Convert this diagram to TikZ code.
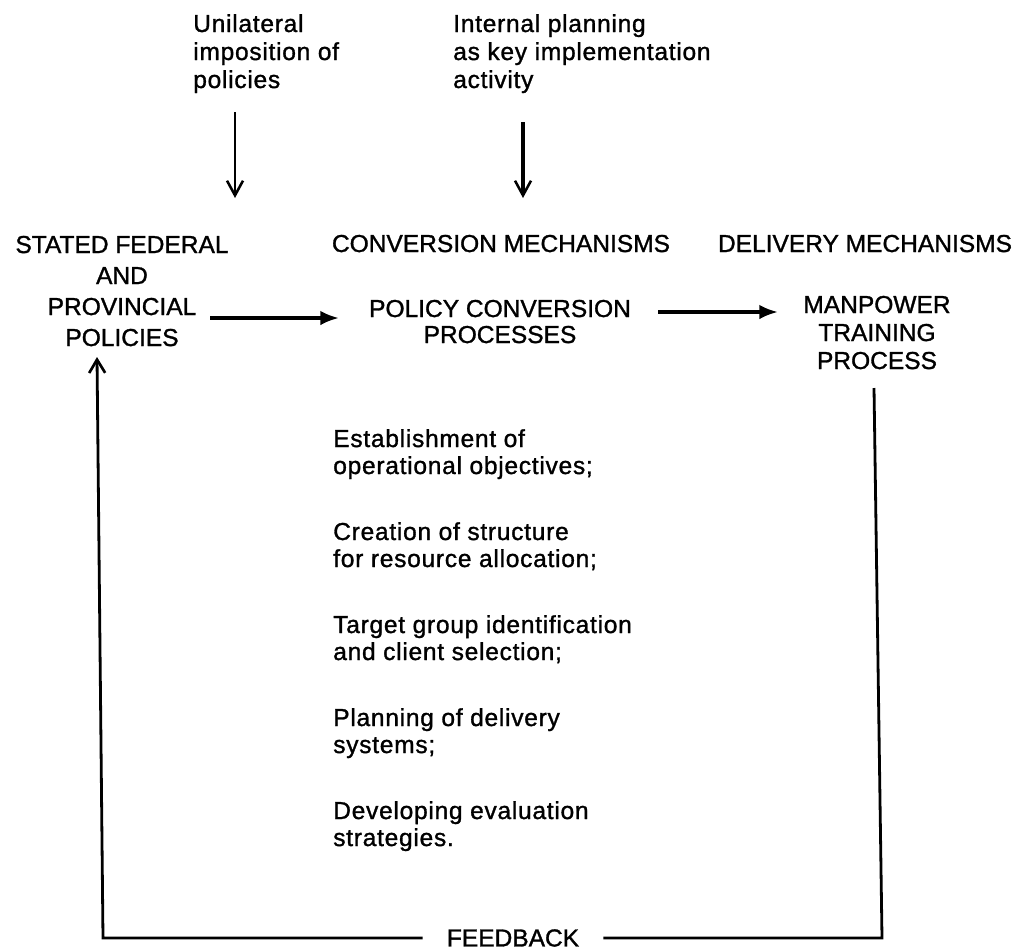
\documentclass[tikz,border=0pt]{standalone}
\usepackage{fontspec}
\setmainfont[FakeBold=1.2]{Liberation Sans}
\newfontfamily\spacedfont[LetterSpace=3,FakeBold=1.2]{Liberation Sans}
\usetikzlibrary{arrows.meta}

% stacked lines whose baseline is that of the first line
\newcommand\leftlines[2]{\vtop{\baselineskip=#1\lineskiplimit=-20pt\halign{##\hfil\cr#2\crcr}}}
\newcommand\centerlines[2]{\vtop{\baselineskip=#1\lineskiplimit=-20pt\halign{\hfil##\hfil\cr#2\crcr}}}

\tikzset{
  caps/.style={inner sep=0pt, font=\fontsize{18.4}{20}\selectfont},
  prose/.style={inner sep=0pt, anchor=base west, font=\fontsize{18.4}{20}\selectfont\spacedfont},
  downarrow/.style={line width=2.1pt, -{Straight Barb[length=11pt,width=12pt,line width=1.9pt]}},
  flowarrow/.style={line width=2.6pt, -{Latex[length=14pt,width=11pt]}},
  feedline/.style={line width=2.1pt},
  feedarrow/.style={line width=2.1pt, -{Straight Barb[length=10pt,width=12pt,line width=2pt]}}
}

\begin{document}
\begin{tikzpicture}[x=0.75pt,y=-0.75pt]
\useasboundingbox (0,0) rectangle (1023,950);

% influences from above
\node[prose] (uni) at (193,32) {\leftlines{21pt}{Unilateral\cr imposition of\cr policies}};
\node[prose] (intl) at (453,32) {\leftlines{21pt}{Internal planning\cr as key implementation\cr activity}};

% column headings
\node[caps, anchor=base] (conv) at (501,252) {CONVERSION MECHANISMS};
\node[caps, anchor=base] (deliv) at (865,252) {DELIVERY MECHANISMS};

% the three stages
\node[caps, anchor=base] (sfp) at (122,253) {\centerlines{23.25pt}{STATED FEDERAL\cr AND\cr PROVINCIAL\cr POLICIES}};
\node[caps, anchor=base] (pcp) at (500,317) {\centerlines{19.5pt}{POLICY CONVERSION\cr PROCESSES}};
\node[caps, anchor=base] (mtp) at (877,313) {\centerlines{21pt}{MANPOWER\cr TRAINING\cr PROCESS}};

% conversion activities
\node[prose] (obj) at (333,447) {\leftlines{20.25pt}{Establishment of\cr operational objectives;}};
\node[prose] (struct) at (333,540) {\leftlines{20.25pt}{Creation of structure\cr for resource allocation;}};
\node[prose] (target) at (333,633) {\leftlines{20.25pt}{Target group identification\cr and client selection;}};
\node[prose] (plan) at (333,726) {\leftlines{20.25pt}{Planning of delivery\cr systems;}};
\node[prose] (eval) at (333,819) {\leftlines{20.25pt}{Developing evaluation\cr strategies.}};

% feedback label
\node[caps, inner xsep=18pt] (fb) at (513,938) {FEEDBACK};

% arrow end points
\coordinate (uniA) at (235,112);
\coordinate (uniB) at (235,198);
\coordinate (intlA) at (523,122);
\coordinate (intlB) at (523,198);
\coordinate (sfpOut) at (210,318);
\coordinate (pcpIn) at (339,318);
\coordinate (pcpOut) at (658,312);
\coordinate (mtpIn) at (778,312);
\coordinate (mtpDown) at (874,388);
\coordinate (fbRight) at (882,938);
\coordinate (fbLeft) at (103,938);
\coordinate (sfpIn) at (97,357);

% connectors
\draw[downarrow] (uniA) -- (uniB);
\draw[downarrow, line width=2.6pt] (intlA) -- (intlB);
\draw[flowarrow] (sfpOut) -- (pcpIn);
\draw[flowarrow] (pcpOut) -- (mtpIn);
\draw[feedline] (mtpDown) -- (fbRight) -- (fb.east);
\draw[feedarrow] (fb.west) -- (fbLeft) -- (sfpIn);
\end{tikzpicture}
\end{document}
